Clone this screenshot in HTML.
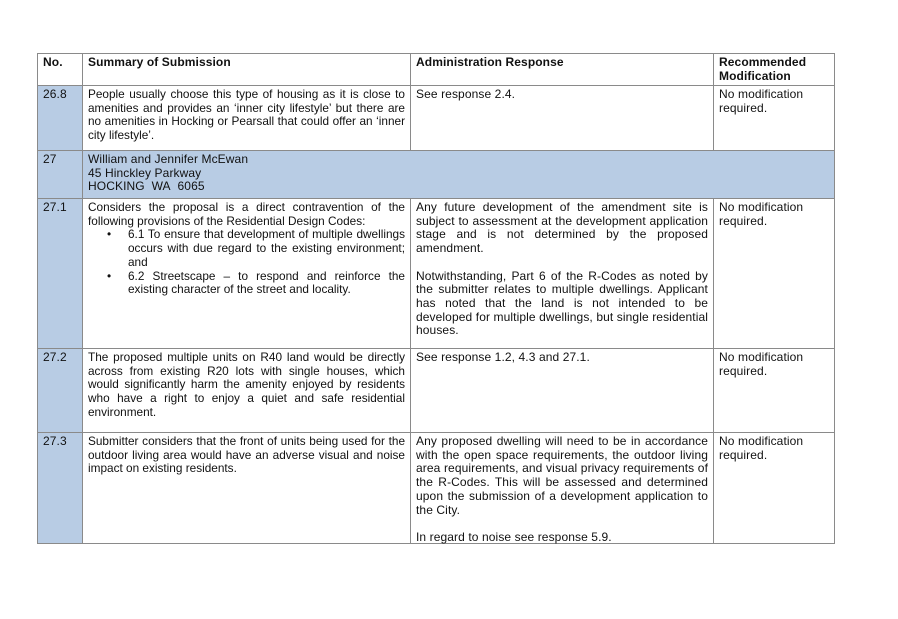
<!DOCTYPE html>
<html><head><meta charset="utf-8"><style>
body{margin:0;width:898px;height:619px;background:#fff;position:relative;overflow:hidden}
.c{position:absolute;box-sizing:border-box;border:1px solid #8a8a8a;padding:2px 5px 0 5px;font-family:"Liberation Sans",Arial,sans-serif;font-size:12px;letter-spacing:0.1px;line-height:13.7px;color:#111}
.j{text-align:justify}
.s{letter-spacing:0px;font-size:11.8px}
.l{display:block;text-align:justify;text-align-last:justify;white-space:nowrap}
.e{display:block;white-space:nowrap}
.b{font-weight:bold}
.blue{background:#b8cce4}
.bl{position:relative;padding-left:40px}
.bl:before{content:"•";position:absolute;left:19px;top:0}
p{margin:0}
</style></head><body>
<div class="c b" style="left:37px;top:53px;width:46px;height:33px">No.</div>
<div class="c b" style="left:82px;top:53px;width:329px;height:33px">Summary of Submission</div>
<div class="c b" style="left:410px;top:53px;width:304px;height:33px">Administration Response</div>
<div class="c b" style="left:713px;top:53px;width:122px;height:33px">Recommended Modification</div>
<div class="c blue" style="left:37px;top:85px;width:46px;height:66px">26.8</div>
<div class="c s" style="left:82px;top:85px;width:329px;height:66px"><span class="l">People usually choose this type of housing as it is close to</span><span class="l">amenities and provides an ‘inner city lifestyle’ but there are</span><span class="l">no amenities in Hocking or Pearsall that could offer an ‘inner</span><span class="e">city lifestyle’.</span></div>
<div class="c" style="left:410px;top:85px;width:304px;height:66px">See response 2.4.</div>
<div class="c" style="left:713px;top:85px;width:122px;height:66px">No modification required.</div>
<div class="c blue" style="left:37px;top:150px;width:46px;height:49px">27</div>
<div class="c blue" style="left:82px;top:150px;width:753px;height:49px">William and Jennifer McEwan<br>45 Hinckley Parkway<br>HOCKING&nbsp; WA&nbsp; 6065</div>
<div class="c blue" style="left:37px;top:198px;width:46px;height:151px">27.1</div>
<div class="c s" style="left:82px;top:198px;width:329px;height:151px"><span class="l">Considers the proposal is a direct contravention of the</span><span class="e">following provisions of the Residential Design Codes:</span>
<div class="bl"><span class="l">6.1 To ensure that development of multiple dwellings</span><span class="l">occurs with due regard to the existing environment;</span><span class="e">and</span></div>
<div class="bl"><span class="l">6.2 Streetscape – to respond and reinforce the</span><span class="e">existing character of the street and locality.</span></div></div>
<div class="c j" style="left:410px;top:198px;width:304px;height:151px"><p>Any future development of the amendment site is subject to assessment at the development application stage and is not determined by the proposed amendment.</p><p style="margin-top:13.7px">Notwithstanding, Part 6 of the R-Codes as noted by the submitter relates to multiple dwellings. Applicant has noted that the land is not intended to be developed for multiple dwellings, but single residential houses.</p></div>
<div class="c" style="left:713px;top:198px;width:122px;height:151px">No modification required.</div>
<div class="c blue" style="left:37px;top:348px;width:46px;height:85px">27.2</div>
<div class="c s" style="left:82px;top:348px;width:329px;height:85px"><span class="l">The proposed multiple units on R40 land would be directly</span><span class="l">across from existing R20 lots with single houses, which</span><span class="l">would significantly harm the amenity enjoyed by residents</span><span class="l">who have a right to enjoy a quiet and safe residential</span><span class="e">environment.</span></div>
<div class="c" style="left:410px;top:348px;width:304px;height:85px">See response 1.2, 4.3 and 27.1.</div>
<div class="c" style="left:713px;top:348px;width:122px;height:85px">No modification required.</div>
<div class="c blue" style="left:37px;top:432px;width:46px;height:112px">27.3</div>
<div class="c s" style="left:82px;top:432px;width:329px;height:112px"><span class="l">Submitter considers that the front of units being used for the</span><span class="l">outdoor living area would have an adverse visual and noise</span><span class="e">impact on existing residents.</span></div>
<div class="c j" style="left:410px;top:432px;width:304px;height:112px"><p>Any proposed dwelling will need to be in accordance with the open space requirements, the outdoor living area requirements, and visual privacy requirements of the R-Codes. This will be assessed and determined upon the submission of a development application to the City.</p><p style="margin-top:13.7px">In regard to noise see response 5.9.</p></div>
<div class="c" style="left:713px;top:432px;width:122px;height:112px">No modification required.</div>
</body></html>
